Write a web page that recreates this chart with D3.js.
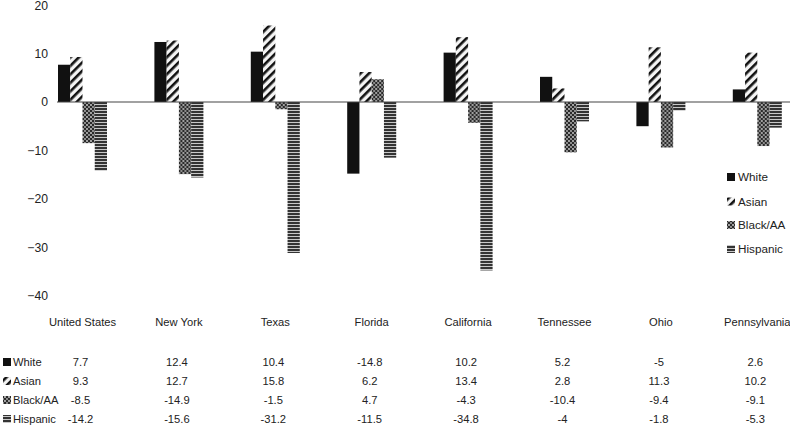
<!DOCTYPE html>
<html><head><meta charset="utf-8">
<script src="https://cdn.jsdelivr.net/npm/d3@7"></script>
<style>
html,body{margin:0;padding:0;background:#fff;}
svg{display:block;}
text{font-family:"Liberation Sans",Arial,sans-serif;fill:#222;}
</style></head>
<body>
<svg id="c" width="790" height="426"></svg>
<script>
const categories = ["United States","New York","Texas","Florida","California","Tennessee","Ohio","Pennsylvania"];
const seriesNames = ["White","Asian","Black/AA","Hispanic"];
const white    = [7.7, 12.4, 10.4, -14.8, 10.2, 5.2, -5, 2.6];
const asian    = [9.3, 12.7, 15.8, 6.2, 13.4, 2.8, 11.3, 10.2];
const blackAA  = [-8.5, -14.9, -1.5, 4.7, -4.3, -10.4, -9.4, -9.1];
const hispanic = [-14.2, -15.6, -31.2, -11.5, -34.8, -4, -1.8, -5.3];
const yTicks = [20, 10, 0, -10, -20, -30, -40];

const seriesValues = [white, asian, blackAA, hispanic];
const fills = ["url(#pWhite)","url(#pAsian)","url(#pBlack)","url(#pHisp)"];
const FS = 11.2;
const FONT = '"Liberation Sans",Arial,sans-serif';

const svg = d3.select("#c");
const defs = svg.append("defs");

const pw = defs.append("pattern").attr("id","pWhite").attr("patternUnits","userSpaceOnUse").attr("width",4).attr("height",4);
pw.append("rect").attr("width",4).attr("height",4).attr("fill","#111");
const pa = defs.append("pattern").attr("id","pAsian").attr("patternUnits","userSpaceOnUse")
  .attr("width",6).attr("height",6).attr("patternTransform","rotate(45)");
pa.append("rect").attr("width",6).attr("height",6).attr("fill","#f4f4f4");
pa.append("rect").attr("width",2.6).attr("height",6).attr("fill","#111");
const pb = defs.append("pattern").attr("id","pBlack").attr("patternUnits","userSpaceOnUse").attr("width",4).attr("height",4);
pb.append("rect").attr("width",4).attr("height",4).attr("fill","#2a2a2a");
pb.append("circle").attr("cx",1).attr("cy",1).attr("r",0.9).attr("fill","#d8d8d8");
pb.append("circle").attr("cx",3).attr("cy",3).attr("r",0.9).attr("fill","#bbbbbb");
const ph = defs.append("pattern").attr("id","pHisp").attr("patternUnits","userSpaceOnUse").attr("width",4).attr("height",3);
ph.append("rect").attr("width",4).attr("height",3).attr("fill","#c8c8c8");
ph.append("rect").attr("width",4).attr("height",2).attr("fill","#333");

const step = 96.4;
const x0 = d3.scaleBand().domain(categories).range([34.3, 34.3 + step*categories.length]).padding(0);
const groupW = 49;
const x1 = d3.scaleBand().domain(seriesNames).range([0, groupW]).padding(0);
const y = d3.scaleLinear().domain([-40, 20]).range([295.6, 5.2]);
const cx = c => x0(c) + x0.bandwidth()/2;

const yAxis = d3.axisLeft(y).tickValues(yTicks).tickSize(0).tickPadding(9).tickFormat(d3.format("d"));
const gy = svg.append("g").attr("transform","translate(57,0)").call(yAxis);
gy.select(".domain").remove();
gy.selectAll("text").attr("font-size",FS + 1).style("font-family",FONT).attr("fill","#222");

const groups = svg.append("g").selectAll("g").data(categories).join("g")
  .attr("transform", c => `translate(${cx(c) - groupW/2},0)`);
groups.selectAll("rect").data((c,i) => seriesNames.map((s,j) => ({s, j, v: seriesValues[j][i]})))
  .join("rect")
  .attr("x", d => x1(d.s))
  .attr("width", x1.bandwidth())
  .attr("y", d => y(Math.max(0, d.v)))
  .attr("height", d => Math.abs(y(d.v) - y(0)))
  .attr("fill", d => fills[d.j]);

svg.append("line").attr("x1",57).attr("x2",790).attr("y1",y(0)).attr("y2",y(0))
  .attr("stroke","#444").attr("stroke-width",1.2);

const xAxis = d3.axisBottom(x0).tickSize(0).tickPadding(0);
const gx = svg.append("g").attr("transform","translate(0,318)").call(xAxis);
gx.select(".domain").remove();
gx.selectAll("text").attr("font-size",FS).attr("dy","0.71em")
  .style("font-family",FONT).attr("fill","#222");

const legend = svg.append("g");
seriesNames.forEach((s,j) => {
  const ly = [177, 201.5, 225, 249][j];
  legend.append("rect").attr("x",727).attr("y",ly-4).attr("width",8).attr("height",8).attr("fill",fills[j]);
  legend.append("text").attr("x",738).attr("y",ly).attr("dy","0.35em").attr("font-size",FS + 0.5).text(s);
});

const rowY = [362, 381, 400, 419];
seriesNames.forEach((s,j) => {
  svg.append("rect").attr("x",3).attr("y",rowY[j]-4).attr("width",8).attr("height",8).attr("fill",fills[j]);
  svg.append("text").attr("x",13).attr("y",rowY[j]).attr("dy","0.35em").attr("font-size",FS).text(s);
  svg.append("g").selectAll("text").data(categories).join("text")
    .attr("x", c => cx(c) - 2)
    .attr("y", rowY[j]).attr("dy","0.35em")
    .attr("text-anchor","middle").attr("font-size",FS)
    .text((c,i) => seriesValues[j][i]);
});
</script>
</body></html>
